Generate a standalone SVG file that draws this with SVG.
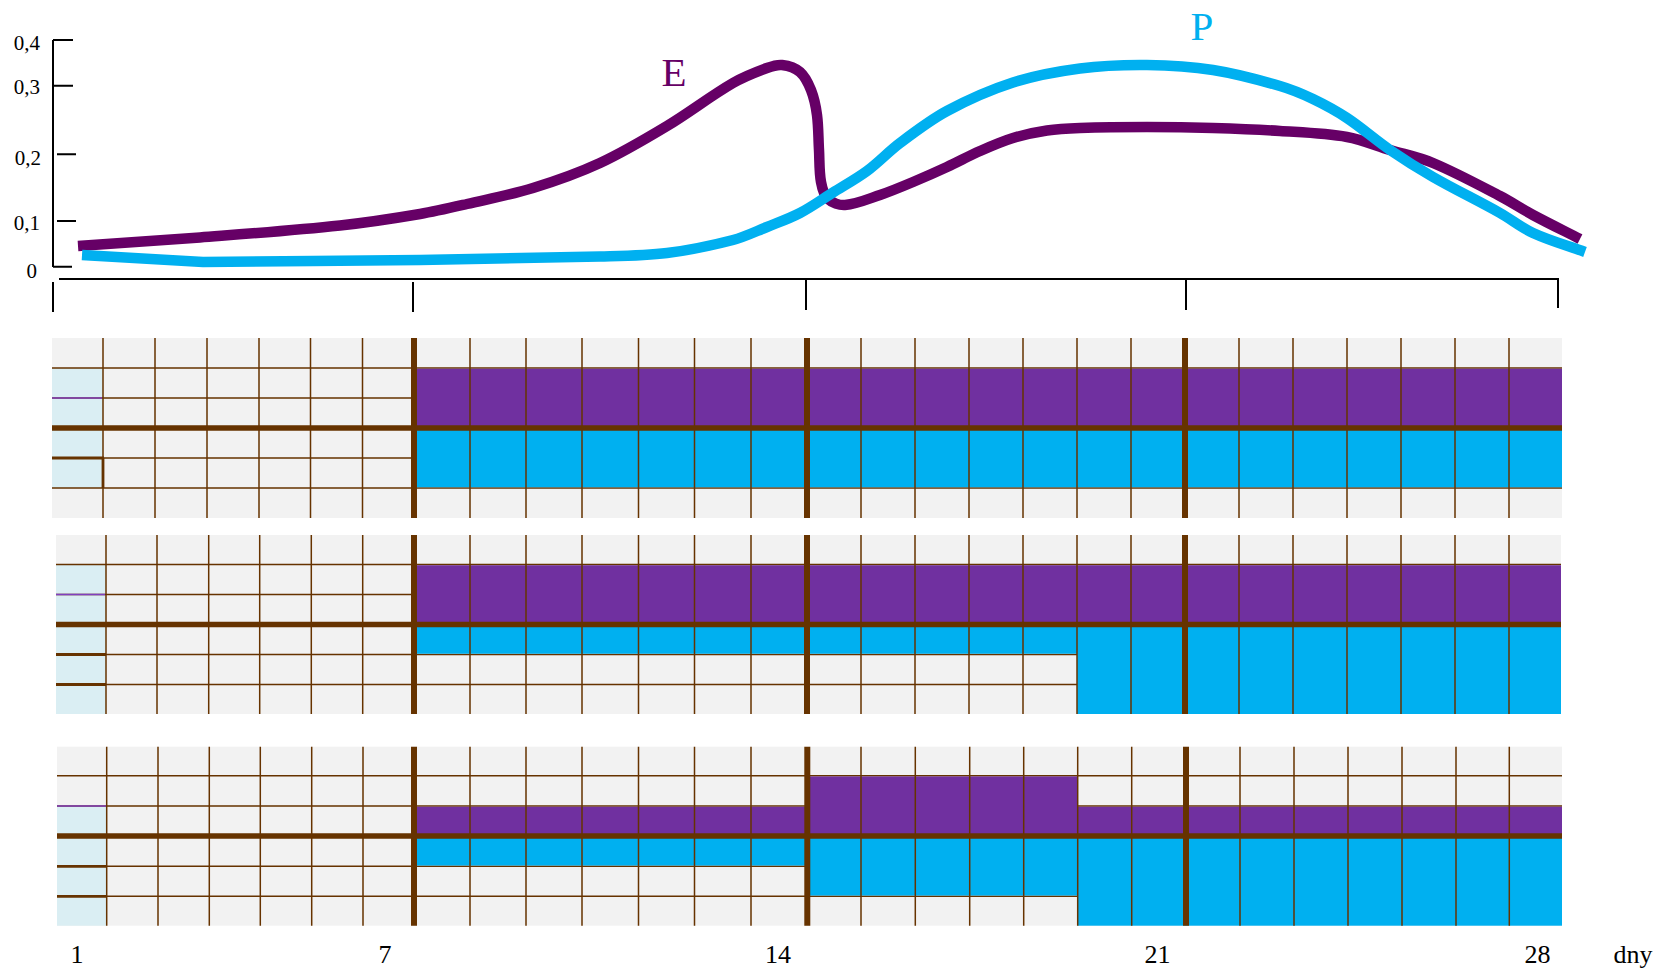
<svg xmlns="http://www.w3.org/2000/svg" width="1674" height="972" viewBox="0 0 1674 972">
<style>
.lbl{font-family:"Liberation Serif","Times New Roman",serif;fill:#000}
.ax{stroke:#000;stroke-width:2;fill:none}
.bg{fill:#F2F2F2}
.lb{fill:#DAEEF3}
.pu{fill:#7030A0}
.bl{fill:#00B0F0}
.thin{stroke:#663300;stroke-width:1.5;fill:none}
.thick{stroke:#663300;stroke-width:6;fill:none}
.hthick{stroke:#663300;stroke-width:5.5;fill:none}
.mark{stroke:#663300;stroke-width:2.8;fill:none}
.pmark{stroke:#8040C0;stroke-width:1.6;fill:none}
</style>
<rect width="1674" height="972" fill="#fff"/>

<g id="chart">
  <g id="axes">
    <path class="ax" d="M53 40V267M53 40H73M53 85.7H73M57 154.3H76M57 221H76M53 266.7H72"/>
    <path class="ax" d="M59 279H1558M53 282V312M413 282V312M806 280V310M1186 280V310M1558 278V308"/>
    <text class="lbl" x="40" y="50" font-size="21" text-anchor="end">0,4</text>
    <text class="lbl" x="40" y="94" font-size="21" text-anchor="end">0,3</text>
    <text class="lbl" x="41" y="165" font-size="21" text-anchor="end">0,2</text>
    <text class="lbl" x="40" y="230" font-size="21" text-anchor="end">0,1</text>
    <text class="lbl" x="37" y="278" font-size="21" text-anchor="end">0</text>
  </g>
  <g id="curve-E">
    <path fill="none" stroke="#660066" stroke-width="10.5" d="M78 246C118.7 243.2 159.4 240.7 200 237.5C246.7 233.85 293.4 230.5 340 225.5C366.8 222.6 393.5 218.5 420 214C435.8 211.3 451.4 207.6 467 204C489.05 198.9 511.4 194.7 533 188C555.7 181 578.4 173 600 163C623.1 152.3 645.2 139.1 667 126C689.5 112.5 710.4 96.1 733 83C743.7 76.8 755.4 72.25 767 68C771.8 66.25 777.1 64.4 782 65C788.1 65.7 795.4 68 800 72C805.05 76.35 808.4 83.5 811 90C814.1 97.9 815.9 106.55 817 115C818.5 126.55 818.3 138.3 819 150C819.6 160.7 819.1 171.6 821 182C822.1 187.95 824 195.1 828 199C832 202.8 839.3 205.4 845 205C856.6 204.1 868.5 198.9 880 195C891.2 191.2 902.1 186.6 913 182C924.4 177.2 935.8 172.2 947 167C958.1 161.9 968.8 155.9 980 151C990.8 146.25 1001.7 141.45 1013 138C1024.1 134.6 1035.55 132.2 1047 130.5C1057.9 128.9 1069 128.4 1080 128C1102.3 127.2 1124.7 127 1147 127C1169 127 1191 127.3 1213 128C1235.35 128.7 1257.7 129.5 1280 131C1302.4 132.5 1325 133.2 1347 137C1361.7 139.5 1375.7 145.7 1390 150C1404.3 154.3 1419.2 157.2 1433 163C1455.9 172.6 1477.9 184.5 1500 196C1511.2 201.8 1521.8 209 1533 215C1548.5 223.3 1564.3 231 1580 239"/>
    <text x="674" y="86" font-size="41" text-anchor="middle" fill="#660066" font-family="Liberation Serif,serif">E</text>
  </g>
  <g id="curve-P">
    <path fill="none" stroke="#00B0F0" stroke-width="10.5" d="M82 255L203 262C275.3 261.3 347.7 261 420 260C480 259.2 540 258.2 600 256.5C622.4 255.9 644.9 255.75 667 253C689.2 250.25 711.4 245.6 733 240C744.7 237 755.7 231.5 767 227C778.1 222.5 789.5 218.5 800 213C811.5 207 822 199.4 833 192.5C844.4 185.4 856.25 178.9 867 171C878.6 162.4 888.5 151.6 900 143C915.1 131.6 930.4 119.9 947 111C968 99.7 990.3 89.8 1013 82.5C1034.6 75.6 1057.45 71.45 1080 68.5C1102.1 65.6 1124.7 64.75 1147 65C1169 65.25 1191.3 66.6 1213 70C1235.6 73.6 1258 79.6 1280 86C1291.3 89.3 1302.3 93.9 1313 99C1324.7 104.6 1336.2 110.85 1347 118C1361.9 127.85 1375.3 139.9 1390 150C1404 159.6 1418.3 168.6 1433 177C1455 189.6 1477.9 200.6 1500 213C1511.2 219.3 1521.4 227.7 1533 233C1549.7 240.7 1567.7 245.7 1585 252"/>
    <text x="1202" y="40" font-size="41" text-anchor="middle" fill="#00B0F0" font-family="Liberation Serif,serif">P</text>
  </g>
</g>

<g id="panel-1">
  <rect class="bg" x="52" y="338" width="1510" height="180"/>
  <rect class="lb" x="52" y="368" width="51" height="120"/>
  <path class="thin" d="M52 368H1562M52 398H1562M52 458H1562M52 488H1562"/>
  <rect class="pu" x="414" y="368.75" width="1148" height="59.25"/>
  <rect class="bl" x="414" y="428" width="1148" height="59.25"/>
  <path class="pmark" d="M52 398H102"/>
  <path class="mark" d="M52 458H104M103 458V488"/>
  <path class="thin" d="M103 338V518M155 338V518M207 338V518M259 338V518M310.5 338V518M362.5 338V518M470 338V518M526 338V518M582 338V518M638.5 338V518M694.5 338V518M751 338V518M861 338V518M915 338V518M969 338V518M1023 338V518M1077 338V518M1131 338V518M1239 338V518M1293 338V518M1347 338V518M1401 338V518M1455 338V518M1509 338V518"/>
  <path class="hthick" d="M52 428H1562"/>
  <path class="thick" d="M414 338V518M807 338V518M1185 338V518"/>
</g>

<g id="panel-2">
  <rect class="bg" x="56" y="535" width="1505" height="179"/>
  <rect class="lb" x="56" y="564.5" width="50" height="149.5"/>
  <path class="thin" d="M56 564.5H1561M56 594.5H1561M56 654.5H1561M56 684.5H1561"/>
  <rect class="pu" x="414" y="565.25" width="1147" height="59.25"/>
  <rect class="bl" x="414" y="624.5" width="663" height="29.25"/>
  <rect class="bl" x="1077" y="624.5" width="484" height="89.5"/>
  <path class="pmark" d="M56 594.5H105"/>
  <path class="mark" d="M56 654.5H106M56 684.5H106"/>
  <path class="thin" d="M106 535V714M157 535V714M208.7 535V714M259.7 535V714M311.3 535V714M362.7 535V714M470 535V714M526 535V714M582 535V714M638.5 535V714M694.5 535V714M751 535V714M861 535V714M915 535V714M969 535V714M1023 535V714M1077 535V714M1131 535V714M1239 535V714M1293 535V714M1347 535V714M1401 535V714M1455 535V714M1509 535V714"/>
  <path class="hthick" d="M56 624.5H1561"/>
  <path class="thick" d="M414 535V714M807 535V714M1185 535V714"/>
</g>

<g id="panel-3">
  <rect class="bg" x="57" y="746.7" width="1505" height="179"/>
  <rect class="lb" x="57" y="806" width="49.7" height="119.7"/>
  <path class="thin" d="M57 775.7H1562M57 806H1562M57 866.3H1562M57 896.3H1562"/>
  <rect class="pu" x="414" y="806.75" width="394" height="29.25"/>
  <rect class="pu" x="807" y="776.45" width="271" height="59.55"/>
  <rect class="pu" x="1077.7" y="806.75" width="484.3" height="29.25"/>
  <rect class="bl" x="414" y="836" width="394" height="29.55"/>
  <rect class="bl" x="807" y="836" width="271" height="59.55"/>
  <rect class="bl" x="1077.7" y="836" width="484.3" height="89.7"/>
  <path class="pmark" d="M57 806H106"/>
  <path class="mark" d="M57 866.3H107M57 896.3H107"/>
  <path class="thin" d="M106.7 746.7V925.7M158 746.7V925.7M209.3 746.7V925.7M260.3 746.7V925.7M311.7 746.7V925.7M363 746.7V925.7M470 746.7V925.7M526 746.7V925.7M582 746.7V925.7M638.5 746.7V925.7M694.5 746.7V925.7M751 746.7V925.7M861 746.7V925.7M915.3 746.7V925.7M969.7 746.7V925.7M1023.7 746.7V925.7M1077.7 746.7V925.7M1131.7 746.7V925.7M1240 746.7V925.7M1294 746.7V925.7M1348 746.7V925.7M1402 746.7V925.7M1456 746.7V925.7M1509.3 746.7V925.7"/>
  <path class="hthick" d="M57 836H1562"/>
  <path class="thick" d="M414 746.7V925.7M807.3 746.7V925.7M1186 746.7V925.7"/>
</g>

<g id="day-labels">
  <text class="lbl" x="77" y="963" font-size="26" text-anchor="middle">1</text>
  <text class="lbl" x="385" y="963" font-size="26" text-anchor="middle">7</text>
  <text class="lbl" x="778" y="963" font-size="26" text-anchor="middle">14</text>
  <text class="lbl" x="1157.5" y="963" font-size="26" text-anchor="middle">21</text>
  <text class="lbl" x="1537.5" y="963" font-size="26" text-anchor="middle">28</text>
  <text class="lbl" x="1633" y="963" font-size="26" text-anchor="middle">dny</text>
</g>
</svg>
